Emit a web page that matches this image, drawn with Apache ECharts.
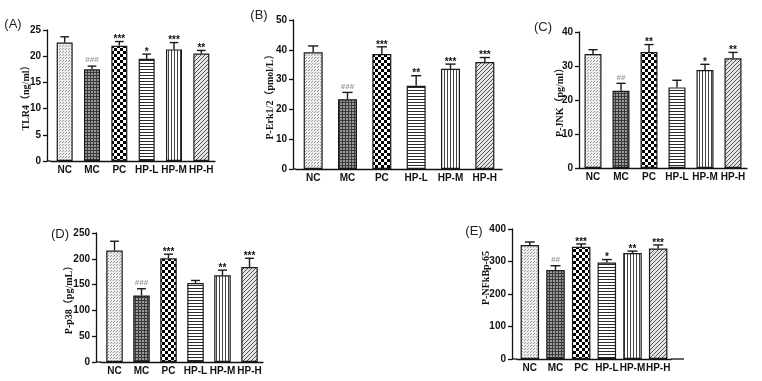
<!DOCTYPE html>
<html>
<head>
<meta charset="utf-8">
<script src="https://cdn.jsdelivr.net/npm/echarts@6/dist/echarts.min.js"></script>
<style>
  html, body { margin: 0; padding: 0; background: #fff; }
  #main { width: 762px; height: 381px; }
</style>
</head>
<body>
<div id="main"></div>
<script>
  // groups on the x axis
  var categories = ['NC', 'MC', 'PC', 'HP-L', 'HP-M', 'HP-H'];

  // (A) TLR4
  var tlr4Mean = [22.6, 17.5, 22.0, 19.5, 21.3, 20.5];
  var tlr4Sd   = [1.1, 0.6, 0.8, 0.9, 1.3, 0.6];
  var tlr4Sig  = ['', '###', '***', '*', '***', '**'];

  // (B) P-Erk1/2
  var erkMean = [39.2, 23.4, 38.6, 27.9, 33.6, 35.9];
  var erkSd   = [2.1, 2.3, 2.4, 3.4, 1.6, 1.5];
  var erkSig  = ['', '###', '***', '**', '***', '***'];

  // (C) P-JNK
  var jnkMean = [33.5, 22.7, 34.1, 23.7, 28.8, 32.3];
  var jnkSd   = [1.3, 2.2, 2.2, 2.1, 1.7, 1.7];
  var jnkSig  = ['', '##', '**', '', '*', '**'];

  // (D) P-p38
  var p38Mean = [216, 129, 201, 153, 168, 184];
  var p38Sd   = [18, 13, 8, 5, 10, 17];
  var p38Sig  = ['', '###', '***', '', '**', '***'];

  // (E) P-NFkBp-65
  var nfkbMean = [351, 274, 345, 297, 326, 340];
  var nfkbSd   = [9, 13, 9, 9, 6, 11];
  var nfkbSig  = ['', '##', '***', '*', '**', '***'];

  // y axis ranges
  var yMax  = [25, 50, 40, 250, 400];
  var yStep = [5, 10, 10, 50, 100];

  // fill patterns, one per group
  function tile(w, h, draw) {
    var c = document.createElement('canvas');
    c.width = w; c.height = h;
    draw(c.getContext('2d'));
    return { image: c, repeat: 'repeat' };
  }
  var fills = [
    tile(3, 3, function (g) { // dots
      g.fillStyle = '#ededed'; g.fillRect(0, 0, 3, 3);
      g.fillStyle = '#9c9c9c'; g.fillRect(0, 0, 1, 1); g.fillRect(2, 1, 1, 1);
    }),
    tile(3, 3, function (g) { // dark mesh
      g.fillStyle = '#9a9a9a'; g.fillRect(0, 0, 3, 3);
      g.fillStyle = '#3a3a3a'; g.fillRect(0, 0, 3, 1); g.fillRect(0, 0, 1, 3);
    }),
    tile(6, 6, function (g) { // checker
      g.fillStyle = '#fff'; g.fillRect(0, 0, 6, 6);
      g.fillStyle = '#000'; g.fillRect(0, 0, 3, 3); g.fillRect(3, 3, 3, 3);
    }),
    tile(3, 3, function (g) { // horizontal lines
      g.fillStyle = '#fff'; g.fillRect(0, 0, 3, 3);
      g.fillStyle = '#2a2a2a'; g.fillRect(0, 0, 3, 1);
    }),
    tile(3, 3, function (g) { // vertical lines
      g.fillStyle = '#fff'; g.fillRect(0, 0, 3, 3);
      g.fillStyle = '#444'; g.fillRect(0, 0, 1, 3);
    }),
    tile(4, 4, function (g) { // diagonal lines
      g.fillStyle = '#e4e4e4'; g.fillRect(0, 0, 4, 4);
      g.fillStyle = '#555';
      g.fillRect(3, 0, 1, 1); g.fillRect(2, 1, 1, 1); g.fillRect(1, 2, 1, 1); g.fillRect(0, 3, 1, 1);
    })
  ];

  var panels = [
    { tag: '(A)', tagX: 13, tagY: 24, mean: tlr4Mean, sd: tlr4Sd, sig: tlr4Sig, name: 'TLR4（ng/ml）',
      axisX: 47, left: 51, right: 215, axisEnd: 215, top: 30, bottom: 161, barW: 16, nameGap: 16, namePad: 0 },
    { tag: '(B)', tagX: 259, tagY: 15, mean: erkMean, sd: erkSd, sig: erkSig, name: 'P-Erk1/2（pmol/L）',
      axisX: 293, left: 296, right: 502, axisEnd: 502, top: 20, bottom: 169, barW: 19, nameGap: 18, namePad: 0 },
    { tag: '(C)', tagX: 543, tagY: 27, mean: jnkMean, sd: jnkSd, sig: jnkSig, name: 'P-JNK（pg/ml）',
      axisX: 579, left: 579, right: 747, axisEnd: 747, top: 32, bottom: 168, barW: 17, nameGap: 14, namePad: 0 },
    { tag: '(D)', tagX: 60, tagY: 234, mean: p38Mean, sd: p38Sd, sig: p38Sig, name: 'P-p38（pg/mL）',
      axisX: 96, left: 101, right: 263, axisEnd: 263, top: 233, bottom: 362, barW: 16.5, nameGap: 22, namePad: 0 },
    { tag: '(E)', tagX: 474, tagY: 231, mean: nfkbMean, sd: nfkbSd, sig: nfkbSig, name: 'P-NFkBp-65',
      axisX: 512, left: 517, right: 671, axisEnd: 684, top: 229, bottom: 359, barW: 18.5, nameGap: 21, namePad: 32 }
  ];

  var grid = [], xAxis = [], yAxis = [], series = [], graphic = [];
  var tickFont = { fontFamily: 'Arial', fontWeight: 'bold', fontSize: 10, color: '#111' };

  panels.forEach(function (p, k) {
    grid.push({ left: p.left, top: p.top, width: p.right - p.left, height: p.bottom - p.top, outerBoundsMode: 'none' });
    xAxis.push({
      gridIndex: k, type: 'category', data: categories,
      axisLine: { lineStyle: { color: '#111', width: 1.3 } },
      axisTick: { show: false },
      axisLabel: Object.assign({ margin: 4, interval: 0, hideOverlap: false }, tickFont)
    });
    yAxis.push({
      gridIndex: k, type: 'value', min: 0, max: yMax[k], interval: yStep[k],
      offset: p.left - p.axisX,
      name: p.name, nameLocation: 'middle', nameGap: p.nameGap, nameRotate: 90, nameMoveOverlap: false,
      nameTextStyle: { fontFamily: 'Liberation Serif, Noto Sans CJK SC', fontWeight: 'bold', fontSize: 10, color: '#111',
        padding: [0, 0, 0, p.namePad] },
      axisLine: { show: true, lineStyle: { color: '#111', width: 1.3 } },
      axisTick: { show: true, length: 4, lineStyle: { color: '#111', width: 1.3 } },
      axisLabel: Object.assign({ margin: 6 }, tickFont),
      splitLine: { show: false }
    });
    series.push({
      type: 'bar', xAxisIndex: k, yAxisIndex: k, barWidth: p.barW,
      data: p.mean.map(function (v, i) {
        return { value: v, itemStyle: { color: fills[i], borderColor: '#1a1a1a', borderWidth: 1.2 } };
      })
    });
    series.push({
      type: 'custom', xAxisIndex: k, yAxisIndex: k, z: 5,
      encode: { x: 0, y: [1, 2] },
      data: p.mean.map(function (v, i) { return [i, v, v + p.sd[i]]; }),
      renderItem: function (params, api) {
        var i = api.value(0);
        var a = api.coord([i, api.value(1)]);
        var b = api.coord([i, api.value(2)]);
        var half = p.barW * 0.27;
        var s = p.sig[i];
        var kids = [
          { type: 'line', shape: { x1: a[0], y1: a[1], x2: b[0], y2: b[1] }, style: { stroke: '#1a1a1a', lineWidth: 1.4 } },
          { type: 'line', shape: { x1: b[0] - half, y1: b[1], x2: b[0] + half, y2: b[1] }, style: { stroke: '#1a1a1a', lineWidth: 1.4 } }
        ];
        if (s) {
          var hash = s.charAt(0) === '#';
          kids.push({
            type: 'text', x: b[0], y: b[1] + (hash ? -2 : 3),
            style: {
              text: s, textAlign: 'center', textVerticalAlign: 'bottom',
              font: hash ? 'bold 8px Arial' : 'bold 10px Arial',
              fill: hash ? '#999' : '#111'
            }
          });
        }
        return { type: 'group', children: kids };
      }
    });
    // x axis line reaches back to the y axis and on to its end
    graphic.push({ type: 'line', shape: { x1: p.axisX, y1: p.bottom, x2: p.left, y2: p.bottom }, style: { stroke: '#111', lineWidth: 1.3 } });
    if (p.axisEnd > p.right) {
      graphic.push({ type: 'line', shape: { x1: p.right, y1: p.bottom, x2: p.axisEnd, y2: p.bottom }, style: { stroke: '#111', lineWidth: 1.3 } });
    }
    graphic.push({
      type: 'text', x: p.tagX, y: p.tagY,
      style: { text: p.tag, font: '13px Arial', fill: '#222', textAlign: 'center', textVerticalAlign: 'middle' }
    });
  });

  var myChart = echarts.init(document.getElementById('main'));
  myChart.setOption({
    animation: false,
    grid: grid,
    xAxis: xAxis,
    yAxis: yAxis,
    series: series,
    graphic: graphic
  });
</script>
</body>
</html>
